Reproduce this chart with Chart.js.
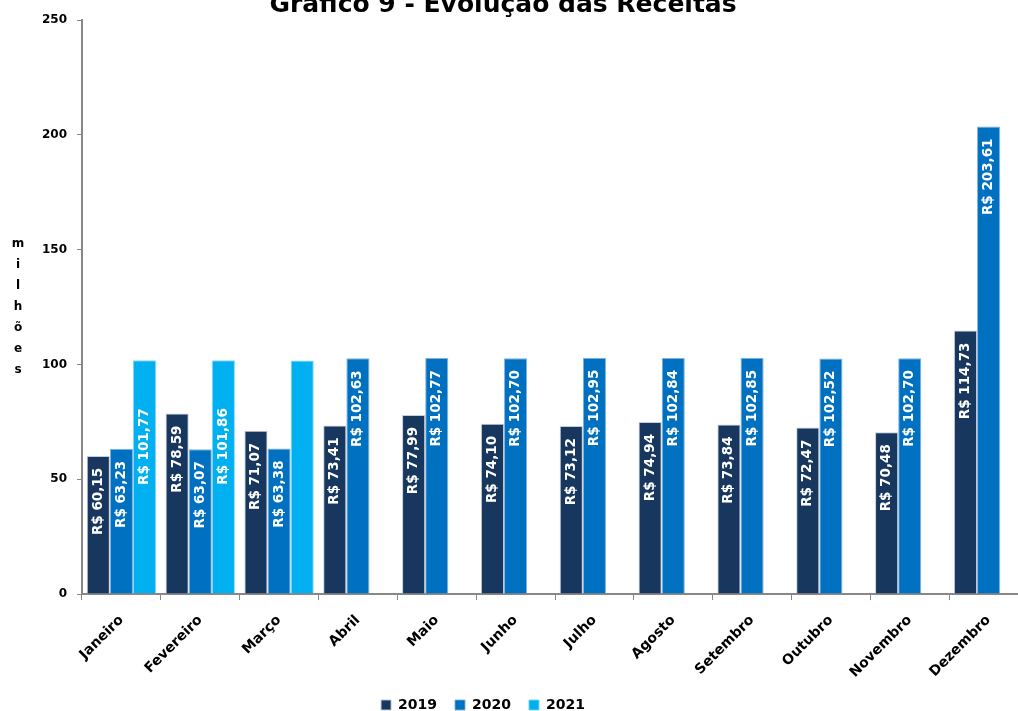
<!DOCTYPE html>
<html>
<head>
<meta charset="utf-8">
<script src="https://cdn.jsdelivr.net/npm/chart.js@4.4.1/dist/chart.umd.min.js"></script>
<style>
  html, body { margin: 0; padding: 0; background: #fff; overflow: hidden; }
  #wrap { position: relative; width: 1018px; height: 711px; overflow: hidden; }
  #box { position: absolute; left: 0; top: -10px; }
</style>
</head>
<body>
<div id="wrap"><div id="box"><canvas id="receitasChart" width="1040" height="732"></canvas></div></div>
<script>
// dados (R$ milhões)
const meses = ['Janeiro', 'Fevereiro', 'Março', 'Abril', 'Maio', 'Junho',
  'Julho', 'Agosto', 'Setembro', 'Outubro', 'Novembro', 'Dezembro'];
const anos = ['2019', '2020', '2021'];
const receitas2019 = [60.15, 78.59, 71.07, 73.41, 77.99, 74.10, 73.12, 74.94, 73.84, 72.47, 70.48, 114.73];
const receitas2020 = [63.23, 63.07, 63.38, 102.63, 102.77, 102.70, 102.95, 102.84, 102.85, 102.52, 102.70, 203.61];
const receitas2021 = [101.77, 101.86, 101.7, null, null, null, null, null, null, null, null, null];
// março/2021 aparece sem rótulo no original
const rotulo2021Visivel = [true, true, false];
const yTicks = [0, 50, 100, 150, 200, 250];
const tituloEixoY = ['m', 'i', 'l', 'h', 'õ', 'e', 's'];

const FONTE = "'DejaVu Sans', Verdana, sans-serif";
const cores = ['#17375E', '#0070C0', '#00B0F0'];

function formataReal(v) {
    return 'R$ ' + v.toFixed(2).replace('.', ',');
}

// rótulos brancos na vertical dentro das barras
const rotulosBarras = {
    id: 'rotulosBarras',
    afterDatasetsDraw(chart) {
        const ctx = chart.ctx;
        const desloc = [12, 12, 48];
        chart.data.datasets.forEach((ds, i) => {
            chart.getDatasetMeta(i).data.forEach((bar, j) => {
                const v = ds.data[j];
                if (v == null) return;
                if (i === 2 && !rotulo2021Visivel[j]) return;
                ctx.save();
                ctx.translate(bar.x, bar.y + desloc[i]);
                ctx.rotate(-Math.PI / 2);
                ctx.textAlign = 'right';
                ctx.textBaseline = 'middle';
                ctx.fillStyle = '#ffffff';
                ctx.font = 'bold 13.5px ' + FONTE;
                ctx.fillText(formataReal(v), 0, 0);
                ctx.restore();
            });
        });
    }
};

// "milhões" com letras empilhadas à esquerda
const tituloVertical = {
    id: 'tituloVertical',
    afterDraw(chart) {
        const ctx = chart.ctx;
        const area = chart.chartArea;
        const passo = 21;
        const y0 = (area.top + area.bottom) / 2 - passo * (tituloEixoY.length - 1) / 2;
        ctx.save();
        ctx.font = 'bold 12px ' + FONTE;
        ctx.fillStyle = '#000';
        ctx.textAlign = 'center';
        ctx.textBaseline = 'middle';
        tituloEixoY.forEach((letra, k) => ctx.fillText(letra, 18, y0 + k * passo));
        ctx.restore();
    }
};

// título e legenda um pouco deslocados para a esquerda, como no original
const ajusteCaixas = {
    id: 'ajusteCaixas',
    afterLayout(chart) {
        chart.titleBlock.left -= 11;
        chart.titleBlock.right -= 11;
        chart.legend.left -= 31;
        chart.legend.right -= 31;
    }
};

new Chart(document.getElementById('receitasChart').getContext('2d'), {
    type: 'bar',
    data: {
        labels: meses,
        datasets: [
            { label: anos[0], data: receitas2019, backgroundColor: cores[0], borderColor: 'rgba(190,200,215,0.9)', borderWidth: 1 },
            { label: anos[1], data: receitas2020, backgroundColor: cores[1], borderColor: 'rgba(120,170,220,0.9)', borderWidth: 1 },
            { label: anos[2], data: receitas2021, backgroundColor: cores[2], borderColor: 'rgba(120,210,245,0.9)', borderWidth: 1 }
        ]
    },
    options: {
        responsive: false,
        animation: false,
        devicePixelRatio: 1,
        categoryPercentage: 0.88,
        barPercentage: 1,
        layout: { padding: { left: 0, right: 12, top: 0, bottom: 0 } },
        plugins: {
            title: {
                display: true,
                text: 'Gráfico 9 - Evolução das Receitas',
                color: '#000',
                font: { family: FONTE, size: 25, weight: 'bold' },
                padding: { top: 0, bottom: 0 }
            },
            legend: {
                position: 'bottom',
                labels: {
                    color: '#000',
                    boxWidth: 10,
                    boxHeight: 10,
                    padding: 18,
                    font: { family: FONTE, size: 14, weight: 'bold' }
                }
            },
            tooltip: { enabled: false }
        },
        scales: {
            x: {
                grid: { offset: true, drawOnChartArea: false, tickLength: 6, color: '#888' },
                border: { color: '#888', width: 2 },
                ticks: {
                    color: '#000',
                    maxRotation: 45,
                    minRotation: 45,
                    padding: 12,
                    font: { family: FONTE, size: 14, weight: 'bold' }
                },
                afterFit: s => { s.height = 86; }
            },
            y: {
                min: 0,
                max: 250,
                afterBuildTicks: s => { s.ticks = yTicks.map(v => ({ value: v })); },
                grid: { drawOnChartArea: false, tickLength: 5, color: '#888' },
                border: { color: '#888', width: 2 },
                ticks: {
                    color: '#000',
                    padding: 10,
                    font: { family: FONTE, size: 12, weight: 'bold' }
                },
                afterFit: s => { s.width = 82; }
            }
        }
    },
    plugins: [rotulosBarras, tituloVertical, ajusteCaixas]
});
</script>
</body>
</html>
